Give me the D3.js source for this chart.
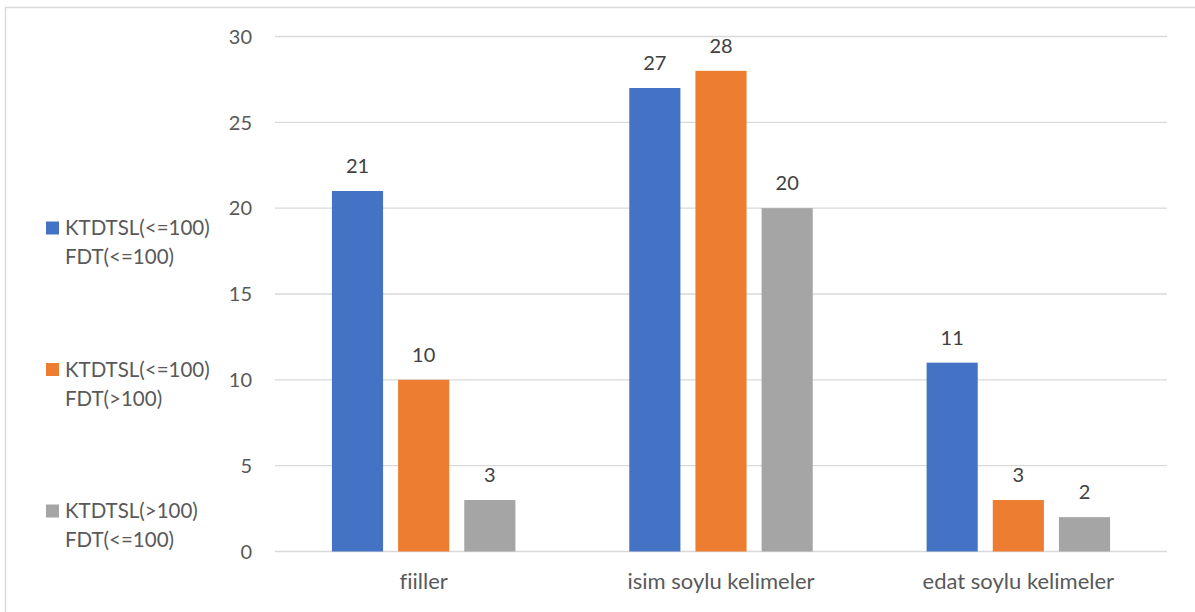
<!DOCTYPE html>
<html>
<head>
<meta charset="utf-8">
<script src="https://cdn.jsdelivr.net/npm/d3@7"></script>
<style>
  body { margin: 0; background: #fff; }
  text { font-family: Lato, "Open Sans", sans-serif; font-variant-ligatures: none; }
</style>
</head>
<body>
<div id="chart"></div>
<script>
// data
var categories = ["fiiller", "isim soylu kelimeler", "edat soylu kelimeler"];
var seriesNames = [
  ["KTDTSL(<=100)", "FDT(<=100)"],
  ["KTDTSL(<=100)", "FDT(>100)"],
  ["KTDTSL(>100)", "FDT(<=100)"]
];
var seriesColors = ["#4472C4", "#ED7D31", "#A5A5A5"];
var blueValues = [21, 27, 11];
var orangeValues = [10, 28, 3];
var grayValues = [3, 20, 2];
var yTicks = [0, 5, 10, 15, 20, 25, 30];

var values = [blueValues, orangeValues, grayValues];

var W = 1195, H = 612;

var svg = d3.select("#chart").append("svg")
  .attr("width", W)
  .attr("height", H);

svg.append("rect").attr("width", W).attr("height", H).attr("fill", "#fff");

// chart border (only top and left visible in the crop)
svg.append("rect")
  .attr("x", 5.5).attr("y", 7.5)
  .attr("width", W + 10).attr("height", H + 10)
  .attr("fill", "none")
  .attr("stroke", "#D9D9D9")
  .attr("stroke-width", 1.5);

var plotLeft = 275, plotRight = 1167;
var y = d3.scaleLinear().domain([0, 30]).range([551.5, 36.5]);

var x0 = d3.scaleBand()
  .domain(categories)
  .range([plotLeft, plotRight])
  .paddingInner(0.383)
  .paddingOuter(0.383 / 2);

var x1 = d3.scaleBand()
  .domain(d3.range(values.length))
  .range([0, x0.bandwidth()])
  .paddingInner(0.227);

// gridlines
svg.append("g").selectAll("line")
  .data(yTicks)
  .join("line")
  .attr("x1", plotLeft).attr("x2", plotRight)
  .attr("y1", d => y(d)).attr("y2", d => y(d))
  .attr("stroke", "#D9D9D9")
  .attr("stroke-width", 1.3);

// y tick labels
svg.append("g").selectAll("text")
  .data(yTicks)
  .join("text")
  .attr("x", 252)
  .attr("y", d => y(d))
  .attr("dy", "0.36em")
  .attr("text-anchor", "end")
  .attr("fill", "#595959")
  .attr("font-size", 20)
  .text(d => d);

// bars + data labels
values.forEach(function(vals, s){
  var g = svg.append("g");
  g.selectAll("rect")
    .data(vals)
    .join("rect")
    .attr("x", (d, i) => x0(categories[i]) + x1(s))
    .attr("y", d => y(d))
    .attr("width", x1.bandwidth())
    .attr("height", d => y(0) - y(d))
    .attr("fill", seriesColors[s]);

  g.selectAll("text")
    .data(vals)
    .join("text")
    .attr("x", (d, i) => x0(categories[i]) + x1(s) + x1.bandwidth() / 2)
    .attr("y", d => y(d) - 18)
    .attr("text-anchor", "middle")
    .attr("fill", "#404040")
    .attr("font-size", 20)
    .text(d => d);
});

// category labels
svg.append("g").selectAll("text")
  .data(categories)
  .join("text")
  .attr("x", d => x0(d) + x0.bandwidth() / 2)
  .attr("y", 589)
  .attr("text-anchor", "middle")
  .attr("fill", "#595959")
  .attr("font-size", 22)
  .text(d => d);

// legend on the left
var legend = svg.append("g").selectAll("g")
  .data(seriesNames)
  .join("g")
  .attr("transform", (d, i) => "translate(46," + (235 + i * 141.5) + ")");

legend.append("rect")
  .attr("x", 0).attr("y", -13.5)
  .attr("width", 13).attr("height", 13)
  .attr("fill", (d, i) => seriesColors[i]);

legend.each(function(lines){
  var t = d3.select(this).append("text")
    .attr("fill", "#595959")
    .attr("font-size", 20.5);
  lines.forEach(function(l, k){
    t.append("tspan").attr("x", 19).attr("y", k * 29).text(l);
  });
});
</script>
</body>
</html>
